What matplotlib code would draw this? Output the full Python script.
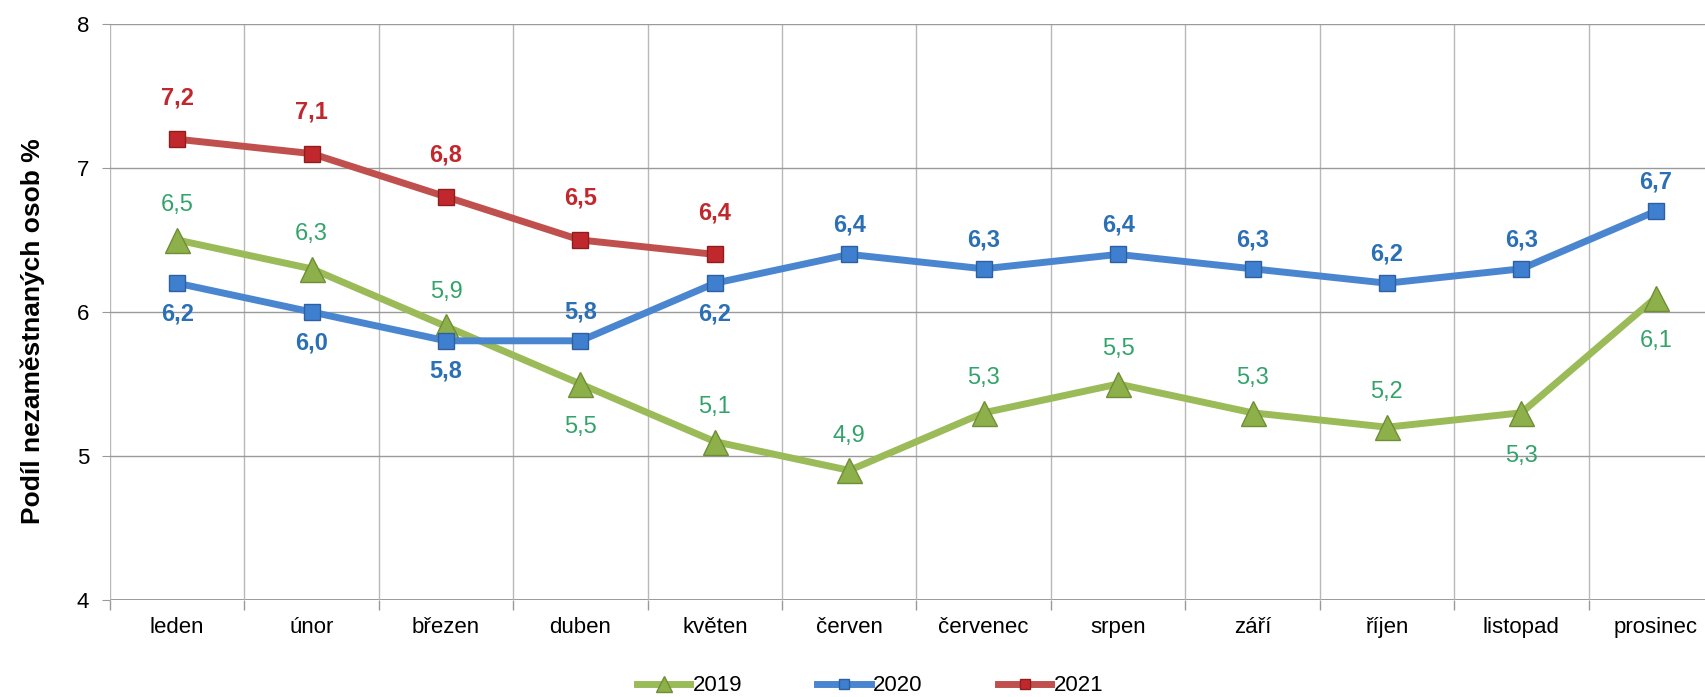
import matplotlib
matplotlib.use("Agg")
import matplotlib.pyplot as plt
from matplotlib.ticker import MultipleLocator, FixedLocator

plt.rcParams['font.family'] = ['Liberation Sans', 'DejaVu Sans']

months = ["leden", "únor", "březen", "duben", "květen", "červen", "červenec",
          "srpen", "září", "říjen", "listopad", "prosinec"]
v2019 = [6.5, 6.3, 5.9, 5.5, 5.1, 4.9, 5.3, 5.5, 5.3, 5.2, 5.3, 6.1]
v2020 = [6.2, 6.0, 5.8, 5.8, 6.2, 6.4, 6.3, 6.4, 6.3, 6.2, 6.3, 6.7]
v2021 = [7.2, 7.1, 6.8, 6.5, 6.4]
pos2019 = ["a", "a", "a", "b", "a", "a", "a", "a", "a", "a", "b", "b"]
pos2020 = ["b", "b", "b", "a", "b", "a", "a", "a", "a", "a", "a", "a"]
pos2021 = ["a"] * 5

fig = plt.figure(figsize=(17.06, 6.97), dpi=100)
ax = fig.add_axes([110/1706, 1-600/697, (1723-110)/1706, (600-24)/697])

x = list(range(len(months)))
ax.set_xlim(-0.5, 11.5)
ax.set_ylim(4, 8)
ax.yaxis.set_major_locator(MultipleLocator(1))
ax.set_xticks(x)
ax.set_xticklabels(months, fontsize=16)
ax.xaxis.set_minor_locator(FixedLocator([i + 0.5 for i in range(-1, 12)]))
ax.tick_params(axis='x', which='major', length=0, pad=12)
ax.tick_params(axis='x', which='minor', length=7, color='#9a9a9a', width=1)
ax.tick_params(axis='y', length=6, color='#9a9a9a', labelsize=16, pad=9)
for s in ax.spines.values():
    s.set_visible(False)
ax.grid(axis='y', which='major', color='#9a9a9a', lw=1)
ax.grid(axis='x', which='minor', color='#b8b8b8', lw=1)
ax.axhline(4, color='#8a8a8a', lw=1.2, zorder=1)

green, blue, red = '#9BBB59', '#4A86D0', '#C0504D'
l1, = ax.plot(x, v2019, color=green, lw=5, marker='^', ms=18, mfc='#8DB04A',
              mec='#6E8F35', mew=1, zorder=3, label='2019')
l2, = ax.plot(x, v2020, color=blue, lw=5, marker='s', ms=12, mfc='#3F7FCF',
              mec='#2E5F9F', mew=1, zorder=4, label='2020')
l3, = ax.plot(x[:len(v2021)], v2021, color=red, lw=5, marker='s', ms=12,
              mfc='#C0282D', mec='#8E1E1E', mew=1, zorder=5, label='2021')

def label(vals, pos, color, bold, up, down):
    for i, (v, p) in enumerate(zip(vals, pos)):
        off = up if p == 'a' else -down
        ax.annotate(f"{v:.1f}".replace('.', ','), (i, v), xytext=(0, off),
                    textcoords='offset points', ha='center', va='center',
                    fontsize=17, color=color,
                    fontweight='bold' if bold else 'normal', zorder=6)

label(v2019, pos2019, '#33A36B', False, 25, 31)
label(v2020, pos2020, '#2B6FB5', True, 21, 22)
label(v2021, pos2021, '#C0282D', True, 30, 30)

ax.set_ylabel("Podíl nezaměstnaných osob %", fontsize=19, fontweight='bold', va='center')
ax.yaxis.set_label_coords(-0.0477, 0.467)

fig.legend(handles=[l1, l2, l3], loc='center', bbox_to_anchor=(0.51, 0.016),
           ncol=3, frameon=False, fontsize=16, columnspacing=3.4, handlelength=2.4,
           handletextpad=0.1, markerscale=0.65)

fig.savefig("out.png", dpi=100)
